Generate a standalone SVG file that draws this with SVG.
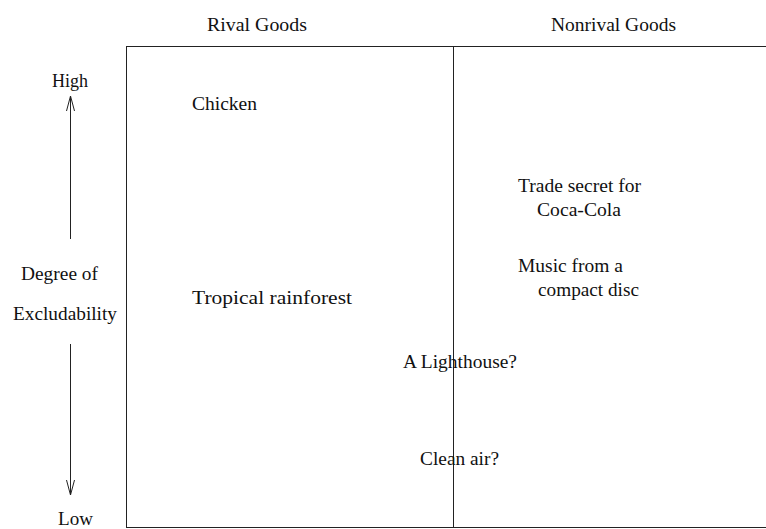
<svg xmlns="http://www.w3.org/2000/svg" width="766" height="529" viewBox="0 0 766 529">
<style>
text{font-family:"Liberation Serif","Times New Roman",serif;font-size:19.5px;fill:#111}
.ln{stroke:#222;stroke-width:1;fill:none}
</style>
<defs>
<marker id="ah" viewBox="0 0 16 10" refX="15" refY="5" markerWidth="16" markerHeight="10" markerUnits="userSpaceOnUse" orient="auto">
<path d="M0,1 L15,5 L0,9" fill="none" stroke="#222" stroke-width="1"/>
</marker>
</defs>
<rect width="766" height="529" fill="#fff"/>
<g id="grid">
<line class="ln" x1="126" y1="46.5" x2="766" y2="46.5"/>
<line class="ln" x1="126" y1="527.5" x2="766" y2="527.5"/>
<line class="ln" x1="126.5" y1="46" x2="126.5" y2="528"/>
<line class="ln" x1="453.5" y1="46" x2="453.5" y2="528"/>
</g>
<g id="headers">
<text x="207" y="31" textLength="100" lengthAdjust="spacingAndGlyphs">Rival Goods</text>
<text x="551" y="31" textLength="125" lengthAdjust="spacingAndGlyphs">Nonrival Goods</text>
</g>
<g id="axis">
<text x="52" y="87" textLength="36" lengthAdjust="spacingAndGlyphs">High</text>
<text x="21" y="280" textLength="77" lengthAdjust="spacingAndGlyphs">Degree of</text>
<text x="13" y="320" textLength="104" lengthAdjust="spacingAndGlyphs">Excludability</text>
<text x="58" y="525" textLength="35" lengthAdjust="spacingAndGlyphs">Low</text>
</g>
<g id="connectors">
<line class="ln" x1="70.5" y1="239" x2="70.5" y2="96" marker-end="url(#ah)"/>
<line class="ln" x1="70.5" y1="344" x2="70.5" y2="495" marker-end="url(#ah)"/>
</g>
<g id="chicken"><text x="192" y="110" textLength="65" lengthAdjust="spacingAndGlyphs">Chicken</text></g>
<g id="rainforest"><text x="192" y="304" textLength="160" lengthAdjust="spacingAndGlyphs">Tropical rainforest</text></g>
<g id="tradesecret">
<text x="518" y="192" textLength="123" lengthAdjust="spacingAndGlyphs">Trade secret for</text>
<text x="537" y="216" textLength="84" lengthAdjust="spacingAndGlyphs">Coca-Cola</text>
</g>
<g id="music">
<text x="518" y="272" textLength="105" lengthAdjust="spacingAndGlyphs">Music from a</text>
<text x="538" y="296" textLength="101" lengthAdjust="spacingAndGlyphs">compact disc</text>
</g>
<g id="lighthouse"><text x="403" y="368" textLength="114" lengthAdjust="spacingAndGlyphs">A Lighthouse?</text></g>
<g id="cleanair"><text x="420" y="465" textLength="79" lengthAdjust="spacingAndGlyphs">Clean air?</text></g>
</svg>
